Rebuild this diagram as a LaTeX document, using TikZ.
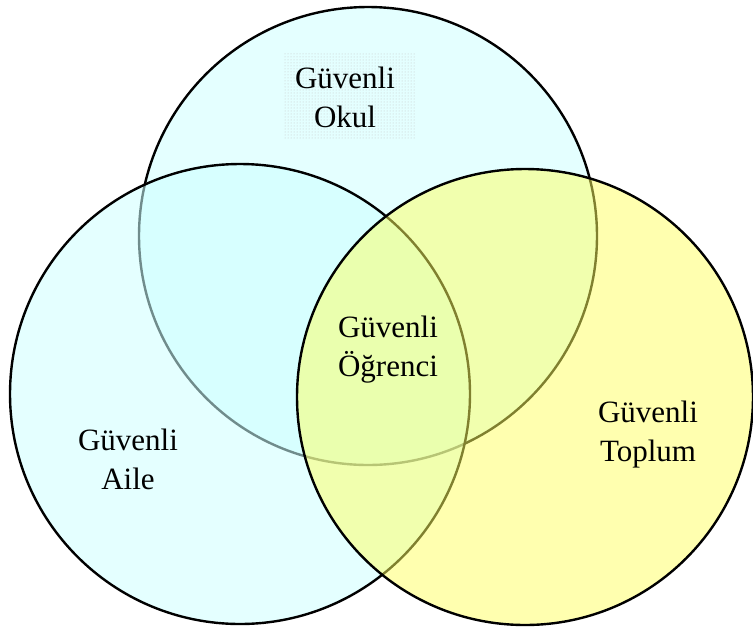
\documentclass[tikz,border=0pt]{standalone}
\usepackage{fontspec}
\setmainfont{Liberation Serif}
\usetikzlibrary{patterns}
\definecolor{cfill}{RGB}{205,255,255}
\definecolor{yfill}{RGB}{255,255,95}
\begin{document}
\begin{tikzpicture}[x=1pt,y=-1pt,
  venn/.style={draw=black, line width=2.4pt, fill opacity=0.55},
  lbl/.style={font=\fontsize{31}{39}\selectfont, align=center, text=black, inner sep=0pt}]
\useasboundingbox (0,0) rectangle (753,633);
\node[venn, circle, minimum size=458pt, inner sep=0pt, fill=cfill] (okul) at (368,236) {};
\node[venn, circle, minimum size=460pt, inner sep=0pt, fill=cfill] (aile) at (240,394) {};
\node[venn, circle, minimum size=456pt, inner sep=0pt, fill=yfill, fill opacity=0.5] (toplum) at (525,397) {};
\node[pattern=dots, pattern color=gray!45, minimum width=133pt, minimum height=86pt, inner sep=0pt] (okulbg) at (349.5,95) {};
\node[lbl] (okult) at (345,97) {Güvenli\\Okul};
\node[lbl] (ogr) at (388,350) {Güvenli\\Öğrenci};
\node[lbl] (ailet) at (128,459) {Güvenli\\Aile};
\node[lbl] (topt) at (648,435) {Güvenli\\Toplum};
\end{tikzpicture}
\end{document}
